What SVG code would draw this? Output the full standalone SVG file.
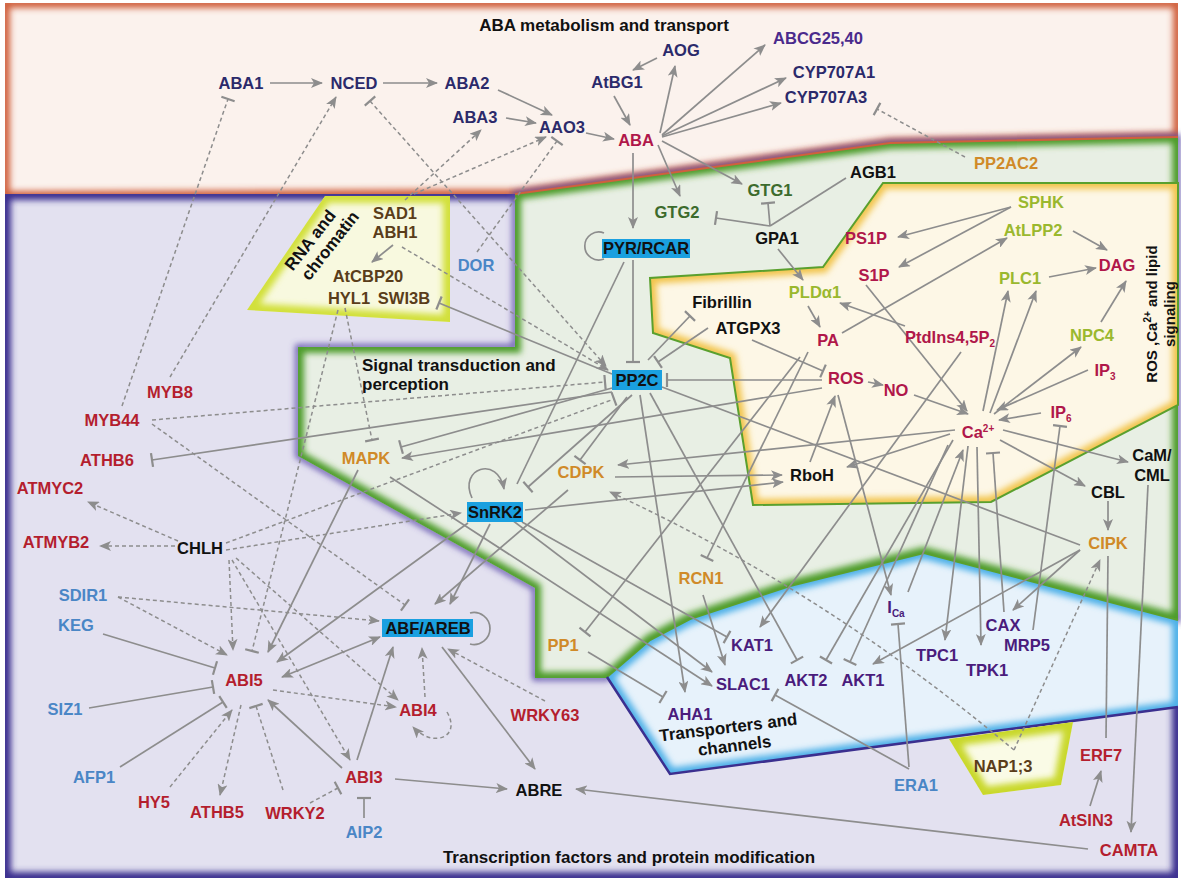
<svg xmlns="http://www.w3.org/2000/svg" width="1181" height="882" viewBox="0 0 1181 882">
<defs>
<style>
text{font-family:"Liberation Sans",Arial,sans-serif;font-weight:bold;font-size:16.5px;text-anchor:middle}
.lbl{font-size:17px;fill:#111}
.nv{fill:#2b2a6b}.pu{fill:#4a2a8c}.cr{fill:#b0174a}.rd{fill:#b41e2e}.lb{fill:#4a86c6}.or{fill:#d08a28}
.dg{fill:#3c6b2c}.lg{fill:#9ab82e}.bk{fill:#111}.br{fill:#5a3d1a}.tp{fill:#4a1c7c}
.box{fill:#1aa0e0}
#conn path{fill:none;stroke:#8d8d8d;stroke-width:1.7}
#conn .d{stroke-dasharray:4 3;stroke-width:1.5}
#conn .a{marker-end:url(#ah)}
#conn .as{marker-start:url(#ahs)}
#conn .t{marker-end:url(#tb)}
#conn .ts{marker-start:url(#tb)}
</style>
<marker id="ah" viewBox="0 0 12 10" refX="11" refY="5" markerWidth="12" markerHeight="10" markerUnits="userSpaceOnUse" orient="auto"><path d="M0,0 L12,5 L0,10 L3,5 Z" fill="#8d8d8d"/></marker>
<marker id="ahs" viewBox="0 0 12 10" refX="11" refY="5" markerWidth="12" markerHeight="10" markerUnits="userSpaceOnUse" orient="auto-start-reverse"><path d="M0,0 L12,5 L0,10 L3,5 Z" fill="#8d8d8d"/></marker>
<marker id="tb" viewBox="-2 -8 4 16" refX="0" refY="0" markerWidth="4" markerHeight="16" markerUnits="userSpaceOnUse" orient="auto"><path d="M0,-7 V7" stroke="#8d8d8d" stroke-width="2.2"/></marker>
<filter id="bl" x="-5%" y="-5%" width="110%" height="110%"><feGaussianBlur stdDeviation="3"/></filter>
<clipPath id="cPink"><path d="M5,3 H1178 V137 L890,143 L515,194 L5,196 Z"/></clipPath>
<clipPath id="cPur"><rect x="5" y="194" width="1173" height="684"/></clipPath>
<clipPath id="cGrn"><path d="M515,194 L890,143 L1178,137 L1178,620 L924,553 L790,586 L690,619 L650,640 L607,678 L535,678 L535,588 L298,456 L298,347 L515,347 Z"/></clipPath>
<clipPath id="cYel"><path d="M883,183 L1178,183 L1178,405 L991,502 L753,505 L730,358 L653,333 L650,278 L823,267 Z"/></clipPath>
<clipPath id="cRna"><path d="M325,196 L450,196 L450,322 L247,310 Z"/></clipPath>
<clipPath id="cBlu"><path d="M607,677 L650,640 L690,619 L790,586 L924,553 L1178,620 L1178,707 L670,774 Z"/></clipPath>
<clipPath id="cNap"><path d="M949,739 L1073,722 L1061,785 L983,795 Z"/></clipPath>
</defs>
<rect width="1181" height="882" fill="#ffffff"/>
<g id="regions">
<g clip-path="url(#cPink)"><path d="M5,3 H1178 V137 L890,143 L515,194 L5,196 Z" fill="#fbf2ed"/><path d="M5,3 H1178 V137 L890,143 L515,194 L5,196 Z" fill="none" stroke="#d0603e" stroke-width="10" filter="url(#bl)"/></g>
<g clip-path="url(#cPur)"><rect x="5" y="194" width="1173" height="684" fill="#e3e1f0"/><rect x="5" y="194" width="1173" height="684" fill="none" stroke="#3b2f8f" stroke-width="12" filter="url(#bl)"/></g>
<path d="M515,194 L890,143 L1178,137 L1178,620 L924,553 L790,586 L690,619 L650,640 L607,678 L535,678 L535,588 L298,456 L298,347 L515,347 Z" fill="none" stroke="#5a4aa8" stroke-width="5" filter="url(#bl)"/>
<g clip-path="url(#cGrn)"><path d="M515,194 L890,143 L1178,137 L1178,620 L924,553 L790,586 L690,619 L650,640 L607,678 L535,678 L535,588 L298,456 L298,347 L515,347 Z" fill="#e8efe4"/><path d="M515,194 L890,143 L1178,137 L1178,620 L924,553 L790,586 L690,619 L650,640 L607,678 L535,678 L535,588 L298,456 L298,347 L515,347 Z" fill="none" stroke="#4e9c2c" stroke-width="12" filter="url(#bl)"/></g>
<path d="M515,194 L890,143 L1178,137" fill="none" stroke="#d0603e" stroke-width="2"/>
<g clip-path="url(#cYel)"><path d="M883,183 L1178,183 L1178,405 L991,502 L753,505 L730,358 L653,333 L650,278 L823,267 Z" fill="#fdf7e6"/><path d="M883,183 L1178,183 L1178,405 L991,502 L753,505 L730,358 L653,333 L650,278 L823,267 Z" fill="none" stroke="#f2c54e" stroke-width="12" filter="url(#bl)"/></g>
<path d="M883,183 L1178,183 L1178,405 L991,502 L753,505 L730,358 L653,333 L650,278 L823,267 Z" fill="none" stroke="#5aa02e" stroke-width="2"/>
<g clip-path="url(#cRna)"><path d="M325,196 L450,196 L450,322 L247,310 Z" fill="#f8f9df"/><path d="M325,196 L450,196 L450,322 L247,310 Z" fill="none" stroke="#d2e03a" stroke-width="14" filter="url(#bl)"/></g>
<g clip-path="url(#cBlu)"><path d="M607,677 L650,640 L690,619 L790,586 L924,553 L1178,620 L1178,707 L670,774 Z" fill="#e7f2fb"/><path d="M607,677 L650,640 L690,619 L790,586 L924,553 L1178,620 L1178,707 L670,774 Z" fill="none" stroke="#4db0e8" stroke-width="12" filter="url(#bl)"/></g>
<path d="M607,677 L650,640 L690,619 L790,586 L924,553 L1178,620" fill="none" stroke="#5aa02e" stroke-width="2"/>
<path d="M607,677 L670,774 L1178,707" fill="none" stroke="#3b2f8f" stroke-width="2.5"/>
<g clip-path="url(#cNap)"><path d="M949,739 L1073,722 L1061,785 L983,795 Z" fill="#fafbe6"/><path d="M949,739 L1073,722 L1061,785 L983,795 Z" fill="none" stroke="#c9d82c" stroke-width="16" filter="url(#bl)"/></g>
<text class="lbl" x="604" y="31">ABA metabolism and transport</text>
<text class="lbl" x="362" y="371" style="text-anchor:start">Signal transduction and</text>
<text class="lbl" x="362" y="390" style="text-anchor:start">perception</text>
<text class="lbl" x="629" y="863">Transcription factors and protein modification</text>
<g transform="translate(729,733) rotate(-7)"><text class="lbl" x="0" y="0">Transporters and</text><text class="lbl" x="4" y="19">channels</text></g>
<g transform="translate(310,240) rotate(-52)"><text class="lbl" x="0" y="6">RNA and</text><text class="lbl" x="8" y="25">chromatin</text></g>
<g transform="translate(1157,314) rotate(-90)"><text class="lbl" x="0" y="0" style="font-size:15px">ROS ,Ca<tspan font-size="10" dy="-6">2+</tspan><tspan dy="6"> and lipid</tspan></text><text class="lbl" x="0" y="18" style="font-size:15px">signaling</text></g>
</g>
<g id="conn">
<path class="a" d="M270,83 L322,83"/>
<path class="a" d="M383,83 L437,83"/>
<path class="a" d="M498,90 L552,115"/>
<path class="a" d="M506,118 L536,123"/>
<path class="a" d="M586,133 L614,139"/>
<path class="a" d="M614,96 L630,125"/>
<path class="a" d="M657,58 L633,70"/>
<path class="a" d="M660,133 L675,66"/>
<path class="a" d="M662,135 L765,45"/>
<path class="a" d="M662,136 L786,78"/>
<path class="a" d="M662,137 L781,103"/>
<path class="a" d="M662,141 L742,184"/>
<path class="a" d="M658,145 L680,196"/>
<path class="a" d="M633,153 L633,228"/>
<path class="a" d="M778,249 L803,280"/>
<path class="a" d="M393,245 L372,262"/>
<path class="t" d="M770,226 L768,203"/>
<path class="t" d="M770,226 L716,218"/>
<path d="M770,226 L846,178"/>
<path class="d t" d="M965,157 L877,109"/>
<path class="d a" d="M405,200 L481,130"/>
<path class="d a" d="M414,194 L546,137"/>
<path class="d t" d="M477,252 L557,141"/>
<path class="d ts a" d="M370,101 L606,366"/>
<path class="d a" d="M402,247 L608,370"/>
<path d="M604,233 A14,14 0 1 0 604,259"/>
<path class="t" d="M633,260 L633,362"/>
<path class="t" d="M612,374 L439,303"/>
<path class="t" d="M822,380 L667,380"/>
<path class="t" d="M708,328 L658,362"/>
<path class="t" d="M752,340 L823,371"/>
<path class="t" d="M648,360 L690,316"/>
<path class="t" d="M612,388 L401,447"/>
<path class="a" d="M822,388 L402,458"/>
<path class="t" d="M612,392 L152,460"/>
<path class="d t" d="M152,420 L605,382"/>
<path class="d t" d="M226,543 L614,399"/>
<path class="d a" d="M226,550 L461,513"/>
<path class="d t" d="M152,424 L405,605"/>
<path class="d t" d="M122,406 L228,99"/>
<path class="d a" d="M170,377 L336,97"/>
<path class="d t" d="M345,308 L372,440"/>
<path class="d t" d="M338,310 L252,651"/>
<path class="d a" d="M229,560 L233,650"/>
<path class="d a" d="M232,560 L350,760"/>
<path class="d a" d="M236,558 L398,700"/>
<path class="d a" d="M178,541 L88,502"/>
<path class="d a" d="M175,546 L100,546"/>
<path class="d a" d="M273,690 L396,707"/>
<path class="d a" d="M118,597 L227,655"/>
<path class="d a" d="M118,597 L379,621"/>
<path class="t" d="M103,634 L215,668"/>
<path class="t" d="M89,708 L213,687"/>
<path class="t" d="M120,767 L223,702"/>
<path class="d a" d="M170,787 L232,710"/>
<path class="d a" d="M241,705 L220,795"/>
<path class="d t" d="M283,790 L256,706"/>
<path class="d t" d="M310,803 L338,788"/>
<path class="a" d="M342,768 L268,700"/>
<path class="t" d="M364,818 L364,798"/>
<path class="a" d="M357,760 L393,647"/>
<path class="a" d="M395,779 L507,789"/>
<path class="a" d="M442,647 L535,769"/>
<path class="d a" d="M545,701 L448,649"/>
<path class="d a" d="M425,697 L422,648"/>
<path class="d a" d="M447,712 C462,738 432,748 413,727"/>
<path d="M470,613 A16,16 0 1 1 470,644"/>
<path class="a as" d="M282,677 L380,637"/>
<path class="a" d="M358,470 L268,652"/>
<path class="a" d="M468,523 L277,662"/>
<path class="a" d="M490,524 L450,604"/>
<path class="a" d="M568,490 L435,604"/>
<path class="t" d="M632,395 L528,487"/>
<path class="t" d="M627,397 L580,460"/>
<path d="M624,262 L517,484"/>
<path class="a" d="M472,498 C458,468 498,455 504,489"/>
<path class="a" d="M1011,207 L898,237"/>
<path class="a" d="M1011,207 L899,267"/>
<path class="a" d="M842,333 L1007,238"/>
<path class="a" d="M1073,231 L1107,250"/>
<path class="a" d="M1049,277 L1096,268"/>
<path class="a" d="M1101,322 L1126,281"/>
<path class="a" d="M983,411 L1008,291"/>
<path class="a" d="M990,413 L1036,291"/>
<path class="a" d="M994,414 L1081,347"/>
<path class="a" d="M1088,370 L997,410"/>
<path class="a" d="M1041,413 L999,420"/>
<path class="a" d="M914,395 L968,414"/>
<path class="a" d="M868,382 L883,385"/>
<path class="a" d="M866,285 L967,411"/>
<path class="a" d="M905,326 L840,303"/>
<path class="a" d="M808,306 L820,327"/>
<path class="a" d="M961,352 L760,627"/>
<path class="a" d="M810,462 L835,396"/>
<path class="a" d="M950,434 L847,467"/>
<path class="a" d="M955,430 L618,465"/>
<path class="a" d="M615,477 L782,475"/>
<path class="a" d="M525,510 L783,482"/>
<path class="a" d="M838,395 L891,595"/>
<path class="t" d="M808,352 L707,558"/>
<path class="t" d="M800,357 L585,632"/>
<path class="a" d="M968,446 L945,640"/>
<path class="a" d="M977,447 L981,645"/>
<path class="t" d="M1004,612 L993,453"/>
<path class="t" d="M1033,630 L1060,426"/>
<path class="a" d="M908,592 L963,450"/>
<path class="t" d="M953,440 L826,660"/>
<path class="t" d="M948,445 L850,662"/>
<path class="a" d="M1080,550 L1013,610"/>
<path class="a" d="M1080,550 L873,664"/>
<path d="M662,387 L1080,545"/>
<path class="a" d="M1000,440 L1085,486"/>
<path class="a" d="M1108,501 L1108,530"/>
<path class="a" d="M1003,430 L1128,462"/>
<path class="a" d="M1148,485 L1131,832"/>
<path d="M1108,556 L1106,738"/>
<path class="a" d="M1090,806 L1101,771"/>
<path class="a" d="M1088,849 L576,789"/>
<path class="d a" d="M1014,750 L1100,560"/>
<path class="d a" d="M1014,750 C930,680 800,580 610,492"/>
<path class="t" d="M909,767 L898,624"/>
<path class="t" d="M909,769 L775,695"/>
<path class="t" d="M588,652 L663,697"/>
<path class="a" d="M703,595 L725,665"/>
<path class="a" d="M640,395 L685,692"/>
<path class="a" d="M508,517 L712,672"/>
<path class="a" d="M390,477 L712,686"/>
<path class="t" d="M522,522 L727,637"/>
<path class="t" d="M650,393 L797,660"/>
</g>
<g id="n-PYR"><rect class="box" x="602" y="239" width="88" height="19"/><text class="bk" x="646" y="254">PYR/RCAR</text></g>
<g id="n-PP2C"><rect class="box" x="612" y="370" width="50" height="20"/><text class="bk" x="637" y="386">PP2C</text></g>
<g id="n-SnRK2"><rect class="box" x="467" y="502" width="56" height="20"/><text class="bk" x="495" y="518">SnRK2</text></g>
<g id="n-ABF"><rect class="box" x="382" y="619" width="91" height="18"/><text class="bk" x="428" y="634">ABF/AREB</text></g>
<g id="n-ABA1"><text class="nv" x="241" y="89">ABA1</text></g>
<g id="n-NCED"><text class="nv" x="354" y="89">NCED</text></g>
<g id="n-ABA2"><text class="nv" x="467" y="89">ABA2</text></g>
<g id="n-ABA3"><text class="nv" x="475" y="123">ABA3</text></g>
<g id="n-AAO3"><text class="nv" x="562" y="133">AAO3</text></g>
<g id="n-AOG"><text class="nv" x="681" y="56">AOG</text></g>
<g id="n-AtBG1"><text class="nv" x="617" y="88">AtBG1</text></g>
<g id="n-ABA"><text class="cr" x="636" y="146">ABA</text></g>
<g id="n-ABCG"><text class="pu" x="818" y="44">ABCG25,40</text></g>
<g id="n-CYP1"><text class="nv" x="834" y="78">CYP707A1</text></g>
<g id="n-CYP3"><text class="nv" x="826" y="103">CYP707A3</text></g>
<g id="n-PP2AC2"><text class="or" x="1006" y="169">PP2AC2</text></g>
<g id="n-GTG1"><text class="dg" x="770" y="196">GTG1</text></g>
<g id="n-GTG2"><text class="dg" x="677" y="218">GTG2</text></g>
<g id="n-AGB1"><text class="bk" x="873" y="178">AGB1</text></g>
<g id="n-GPA1"><text class="bk" x="777" y="244">GPA1</text></g>
<g id="n-PS1P"><text class="cr" x="866" y="244">PS1P</text></g>
<g id="n-S1P"><text class="cr" x="874" y="281">S1P</text></g>
<g id="n-PLD"><text class="lg" x="815" y="298">PLDα1</text></g>
<g id="n-SPHK"><text class="lg" x="1041" y="208">SPHK</text></g>
<g id="n-AtLPP2"><text class="lg" x="1033" y="236">AtLPP2</text></g>
<g id="n-DAG"><text class="cr" x="1117" y="271">DAG</text></g>
<g id="n-PLC1"><text class="lg" x="1020" y="284">PLC1</text></g>
<g id="n-Fib"><text class="bk" x="722" y="308">Fibrillin</text></g>
<g id="n-ATGPX3"><text class="bk" x="748" y="334">ATGPX3</text></g>
<g id="n-PA"><text class="cr" x="828" y="346">PA</text></g>
<g id="n-PtdIns"><text class="cr" x="950" y="343">PtdIns4,5P<tspan font-size="10" dy="4">2</tspan></text></g>
<g id="n-NPC4"><text class="lg" x="1092" y="341">NPC4</text></g>
<g id="n-IP3"><text class="cr" x="1105" y="376">IP<tspan font-size="10" dy="4">3</tspan></text></g>
<g id="n-ROS"><text class="cr" x="846" y="384">ROS</text></g>
<g id="n-NO"><text class="cr" x="896" y="396">NO</text></g>
<g id="n-IP6"><text class="cr" x="1061" y="418">IP<tspan font-size="10" dy="4">6</tspan></text></g>
<g id="n-Ca"><text class="cr" x="978" y="438">Ca<tspan font-size="10" dy="-6">2+</tspan></text></g>
<g id="n-CaM"><text class="bk" x="1152" y="461">CaM/</text><text class="bk" x="1152" y="481">CML</text></g>
<g id="n-CBL"><text class="bk" x="1108" y="498">CBL</text></g>
<g id="n-CIPK"><text class="or" x="1108" y="549">CIPK</text></g>
<g id="n-RboH"><text class="bk" x="812" y="481">RboH</text></g>
<g id="n-CDPK"><text class="or" x="581" y="478">CDPK</text></g>
<g id="n-MAPK"><text class="or" x="366" y="464">MAPK</text></g>
<g id="n-RCN1"><text class="or" x="701" y="584">RCN1</text></g>
<g id="n-MYB8"><text class="rd" x="170" y="398">MYB8</text></g>
<g id="n-MYB44"><text class="rd" x="112" y="426">MYB44</text></g>
<g id="n-ATHB6"><text class="rd" x="107" y="466">ATHB6</text></g>
<g id="n-ATMYC2"><text class="rd" x="50" y="494">ATMYC2</text></g>
<g id="n-ATMYB2"><text class="rd" x="56" y="548">ATMYB2</text></g>
<g id="n-CHLH"><text class="bk" x="200" y="554">CHLH</text></g>
<g id="n-SDIR1"><text class="lb" x="83" y="601">SDIR1</text></g>
<g id="n-KEG"><text class="lb" x="76" y="631">KEG</text></g>
<g id="n-ABI5"><text class="rd" x="244" y="686">ABI5</text></g>
<g id="n-SIZ1"><text class="lb" x="65" y="715">SIZ1</text></g>
<g id="n-AFP1"><text class="lb" x="94" y="783">AFP1</text></g>
<g id="n-HY5"><text class="rd" x="154" y="808">HY5</text></g>
<g id="n-ATHB5"><text class="rd" x="217" y="818">ATHB5</text></g>
<g id="n-WRKY2"><text class="rd" x="295" y="819">WRKY2</text></g>
<g id="n-ABI4"><text class="rd" x="418" y="716">ABI4</text></g>
<g id="n-ABI3"><text class="rd" x="364" y="783">ABI3</text></g>
<g id="n-AIP2"><text class="lb" x="364" y="838">AIP2</text></g>
<g id="n-ABRE"><text class="bk" x="539" y="796">ABRE</text></g>
<g id="n-WRKY63"><text class="rd" x="545" y="721">WRKY63</text></g>
<g id="n-PP1"><text class="or" x="563" y="651">PP1</text></g>
<g id="n-KAT1"><text class="tp" x="752" y="651">KAT1</text></g>
<g id="n-SLAC1"><text class="tp" x="743" y="690">SLAC1</text></g>
<g id="n-AKT2"><text class="tp" x="806" y="686">AKT2</text></g>
<g id="n-AKT1"><text class="tp" x="863" y="686">AKT1</text></g>
<g id="n-AHA1"><text class="tp" x="690" y="720">AHA1</text></g>
<g id="n-ICa"><text class="tp" x="896" y="613">I<tspan font-size="10" dy="4">Ca</tspan></text></g>
<g id="n-CAX"><text class="tp" x="1003" y="631">CAX</text></g>
<g id="n-MRP5"><text class="tp" x="1027" y="651">MRP5</text></g>
<g id="n-TPC1"><text class="tp" x="937" y="661">TPC1</text></g>
<g id="n-TPK1"><text class="tp" x="987" y="676">TPK1</text></g>
<g id="n-ERA1"><text class="lb" x="916" y="791">ERA1</text></g>
<g id="n-ERF7"><text class="rd" x="1101" y="761">ERF7</text></g>
<g id="n-AtSIN3"><text class="rd" x="1086" y="826">AtSIN3</text></g>
<g id="n-CAMTA"><text class="rd" x="1129" y="856">CAMTA</text></g>
<g id="n-DOR"><text class="lb" x="476" y="271">DOR</text></g>
<g id="n-SAD1"><text class="br" x="395" y="219">SAD1</text></g>
<g id="n-ABH1"><text class="br" x="395" y="238">ABH1</text></g>
<g id="n-AtCBP20"><text class="br" x="368" y="282">AtCBP20</text></g>
<g id="n-HYL1"><text class="br" x="349" y="304">HYL1</text></g>
<g id="n-SWI3B"><text class="br" x="404" y="304">SWI3B</text></g>
<g id="n-NAP"><text class="br" x="1003" y="772">NAP1;3</text></g>
</svg>
